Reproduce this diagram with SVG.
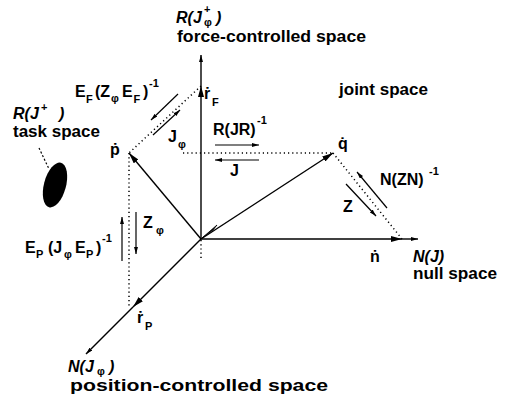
<svg xmlns="http://www.w3.org/2000/svg" width="509" height="407" viewBox="0 0 509 407">
<defs>
<style>
text{font-family:"Liberation Sans","DejaVu Sans",Arial,sans-serif;font-weight:bold;font-size:16px;fill:#000}
.it{font-style:italic;font-size:16px}
.sb{font-size:11px}
.sp{font-size:11px}
.ln{stroke:#000;stroke-width:1.4;fill:none}
.dt{stroke:#000;stroke-width:1.5;fill:none;stroke-dasharray:1.2 3}
.th{stroke:#000;stroke-width:1.2;fill:none}
</style>
<marker id="big" viewBox="0 0 11 6" refX="11" refY="3" markerWidth="11" markerHeight="6" orient="auto" markerUnits="userSpaceOnUse"><path d="M0,0 L11,3 L0,6 z" fill="#000"/></marker>
<marker id="sm" viewBox="0 0 7 4" refX="7" refY="2" markerWidth="7" markerHeight="4" orient="auto" markerUnits="userSpaceOnUse"><path d="M0,0 L7,2 L0,4 z" fill="#000"/></marker>
</defs>
<rect width="509" height="407" fill="#fff"/>
<g id="connectors">
<path class="ln" d="M201,239 L201,86" marker-end="url(#big)"/>
<path class="ln" d="M201,86 L201,55" marker-end="url(#sm)"/>
<path class="ln" d="M201,239 L402,239" marker-end="url(#big)"/>
<path class="ln" d="M402,239 L418,239" marker-end="url(#sm)"/>
<path class="ln" d="M201,239 L133,307" marker-end="url(#big)"/>
<path class="ln" d="M133,307 L86,354" marker-end="url(#sm)"/>
<path class="ln" d="M201,239 L129,153" marker-end="url(#big)"/>
<path class="ln" d="M201,239 L333,153" marker-end="url(#big)"/>
<path d="M217,225 L202,238 L213,230 z" fill="#000" stroke="#000" stroke-width="0.8"/>
<path class="dt" d="M201,86 L129,153"/>
<path class="dt" d="M129,153 L129,308"/>
<path class="dt" d="M183,153 L333,153"/>
<path class="dt" d="M333,153 L402,239"/>
<path class="dt" d="M201,240 L201,258"/>
<path class="th" d="M178,94 L151,120" marker-end="url(#sm)"/>
<path class="th" d="M153,135 L180,110" marker-end="url(#sm)"/>
<path class="th" d="M215,145 L259,145" marker-end="url(#sm)"/>
<path class="th" d="M259,160 L215,160" marker-end="url(#sm)"/>
<path class="th" d="M387,208 L357,172" marker-end="url(#sm)"/>
<path class="th" d="M346,184 L376,216" marker-end="url(#sm)"/>
<path class="th" d="M122,261 L122,217" marker-end="url(#sm)"/>
<path class="th" d="M136,212 L136,254" marker-end="url(#sm)"/>
<path d="M39,148 L49,169" stroke="#000" stroke-width="1.2" stroke-dasharray="2 2" fill="none"/>
</g>
<g id="force-space">
<text class="it" x="176" y="23">R(J</text>
<text class="sp" x="204" y="13">+</text>
<text class="sb" x="204" y="26">φ</text>
<text class="it" x="216" y="23">)</text>
<text x="177" y="42" textLength="189" lengthAdjust="spacingAndGlyphs">force-controlled space</text>
</g>
<g id="joint-space">
<text x="339" y="95" textLength="89" lengthAdjust="spacingAndGlyphs">joint space</text>
</g>
<g id="task-space">
<ellipse cx="55" cy="185" rx="11" ry="23" transform="rotate(15 55 185)" fill="#000"/>
<text class="it" x="13" y="119">R(J</text>
<text class="sp" x="41" y="111">+</text>
<text class="it" x="59" y="119">)</text>
<text x="13" y="137" textLength="87" lengthAdjust="spacingAndGlyphs">task space</text>
</g>
<g id="p">
<text x="110" y="155">ṗ</text>
</g>
<g id="rF">
<text x="204" y="99">ṙ</text>
<text class="sb" x="212" y="106">F</text>
</g>
<g id="label-EF">
<text x="75" y="97">E</text>
<text class="sb" x="86" y="103">F</text>
<text x="95" y="97">(Z</text>
<text class="sb" x="111" y="102">φ</text>
<text x="122" y="97">E</text>
<text class="sb" x="133.5" y="103">F</text>
<text x="143" y="97">)</text>
<text class="sp" x="149" y="87">-1</text>
</g>
<g id="label-Jphi">
<text x="168" y="142">J</text>
<text class="sb" x="178" y="148">φ</text>
</g>
<g id="label-RJR">
<text x="213" y="135">R(JR)</text>
<text class="sp" x="257" y="124">-1</text>
<text x="230" y="176">J</text>
</g>
<g id="q">
<text x="338" y="149">q̇</text>
</g>
<g id="label-NZN">
<text x="380" y="185">N(ZN)</text>
<text class="sp" x="429" y="175">-1</text>
<text x="343" y="212">Z</text>
</g>
<g id="n">
<text x="370" y="262">ṅ</text>
</g>
<g id="null-space">
<text class="it" x="413" y="262">N(J)</text>
<text x="413" y="279" textLength="84" lengthAdjust="spacingAndGlyphs">null space</text>
</g>
<g id="label-EP">
<text x="25" y="253">E</text>
<text class="sb" x="36" y="258">P</text>
<text x="48" y="253">(J</text>
<text class="sb" x="64" y="258">φ</text>
<text x="75" y="253">E</text>
<text class="sb" x="86" y="258">P</text>
<text x="96" y="253">)</text>
<text class="sp" x="102" y="242">-1</text>
<text x="143" y="228">Z</text>
<text class="sb" x="156" y="234">φ</text>
</g>
<g id="rP">
<text x="137" y="323">ṙ</text>
<text class="sb" x="145" y="330">P</text>
</g>
<g id="position-space">
<text class="it" x="68" y="372">N(J</text>
<text class="sb" x="97" y="375">φ</text>
<text class="it" x="109" y="372">)</text>
<text x="70" y="391" textLength="258" lengthAdjust="spacingAndGlyphs">position-controlled space</text>
</g>
</svg>
